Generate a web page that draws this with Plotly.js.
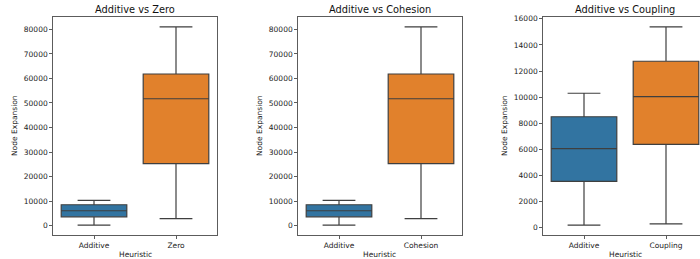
<!DOCTYPE html>
<html><head>
<script src="https://cdn.plot.ly/plotly-3.0.1.min.js"></script>
<style>html,body{margin:0;padding:0;overflow:hidden;background:#fff}</style>
</head><body>
<div id="chart" style="width:710px;height:259px"></div>
<script>
const titles = ['Additive vs Zero', 'Additive vs Cohesion', 'Additive vs Coupling'];
const categories = [['Additive', 'Zero'], ['Additive', 'Cohesion'], ['Additive', 'Coupling']];
const lowerFence = [[200, 2850], [200, 2850], [200, 300]];
const q1 = [[3550, 25250], [3550, 25250], [3550, 6390]];
const median = [[6050, 51700], [6050, 51700], [6050, 10040]];
const q3 = [[8500, 61800], [8500, 61800], [8500, 12750]];
const upperFence = [[10300, 81000], [10300, 81000], [10300, 15380]];
const yTickStep = [10000, 10000, 2000];
const yLabel = 'Node Expansion';
const xLabel = 'Heuristic';
const colors = ['#3274a1', '#e1812c'];

(function () {
const W = 710, H = 259;
const panelLeft = [53, 298, 543];
const panelW = 164;
const plotTop = 17, plotBottom = 235;
const font = 'DejaVu Sans, sans-serif';

const data = [];
const layout = {
  width: W, height: H,
  margin: {l: 0, r: 0, t: plotTop, b: H - plotBottom, pad: 0},
  paper_bgcolor: '#fff', plot_bgcolor: '#fff',
  showlegend: false,
  boxmode: 'overlay',
  font: {family: font, size: 7.5, color: '#222'},
  annotations: []
};

for (let p = 0; p < 3; p++) {
  const sfx = p === 0 ? '' : String(p + 1);
  for (let i = 0; i < 2; i++) {
    data.push({
      type: 'box',
      x: [categories[p][i]],
      q1: [q1[p][i]], median: [median[p][i]], q3: [q3[p][i]],
      lowerfence: [lowerFence[p][i]], upperfence: [upperFence[p][i]],
      boxpoints: false,
      width: 0.8,
      whiskerwidth: 0.5,
      fillcolor: colors[i],
      line: {color: '#3f3f3f', width: 1.2},
      xaxis: 'x' + sfx, yaxis: 'y' + sfx,
      hoverinfo: 'skip'
    });
  }
  const lo = Math.min(...lowerFence[p]), hi = Math.max(...upperFence[p]);
  const pad = 0.05 * (hi - lo);
  const x0 = panelLeft[p] / W, x1 = (panelLeft[p] + panelW) / W;
  layout['xaxis' + sfx] = {
    domain: [x0, x1], anchor: 'y' + sfx,
    type: 'category', range: [-0.5, 1.5],
    showline: true, mirror: true, linecolor: '#333', linewidth: 0.8,
    ticks: 'outside', ticklen: 3, tickwidth: 0.8, tickcolor: '#333',
    showgrid: false, zeroline: false, fixedrange: true,
    tickfont: {family: font, size: 7.5, color: '#222'}
  };
  layout['yaxis' + sfx] = {
    domain: [0, 1], anchor: 'x' + sfx,
    range: [lo - pad, hi + pad],
    dtick: yTickStep[p], tick0: 0, tickformat: 'd',
    showline: true, mirror: true, linecolor: '#333', linewidth: 0.8,
    ticks: 'outside', ticklen: 3, tickwidth: 0.8, tickcolor: '#333',
    showgrid: false, zeroline: false, fixedrange: true,
    tickfont: {family: font, size: 7.5, color: '#222'}
  };
  const cx = (panelLeft[p] + panelW / 2) / W;
  const span = plotBottom - plotTop;
  layout.annotations.push({
    text: titles[p], xref: 'paper', yref: 'paper', x: cx, y: (plotBottom - 9) / span,
    xanchor: 'center', yanchor: 'middle', showarrow: false,
    font: {family: font, size: 9.8, color: '#111'}
  });
  layout.annotations.push({
    text: xLabel, xref: 'paper', yref: 'paper', x: cx, y: (plotBottom - 255) / span,
    xanchor: 'center', yanchor: 'middle', showarrow: false,
    font: {family: font, size: 7.5, color: '#222'}
  });
  layout.annotations.push({
    text: yLabel, xref: 'paper', yref: 'paper', x: (panelLeft[p] - 39) / W, y: 0.5,
    xanchor: 'center', yanchor: 'middle', showarrow: false, textangle: -90,
    font: {family: font, size: 7.5, color: '#222'}
  });
}

Plotly.newPlot('chart', data, layout, {staticPlot: true, displayModeBar: false});
})();
</script>
</body></html>
